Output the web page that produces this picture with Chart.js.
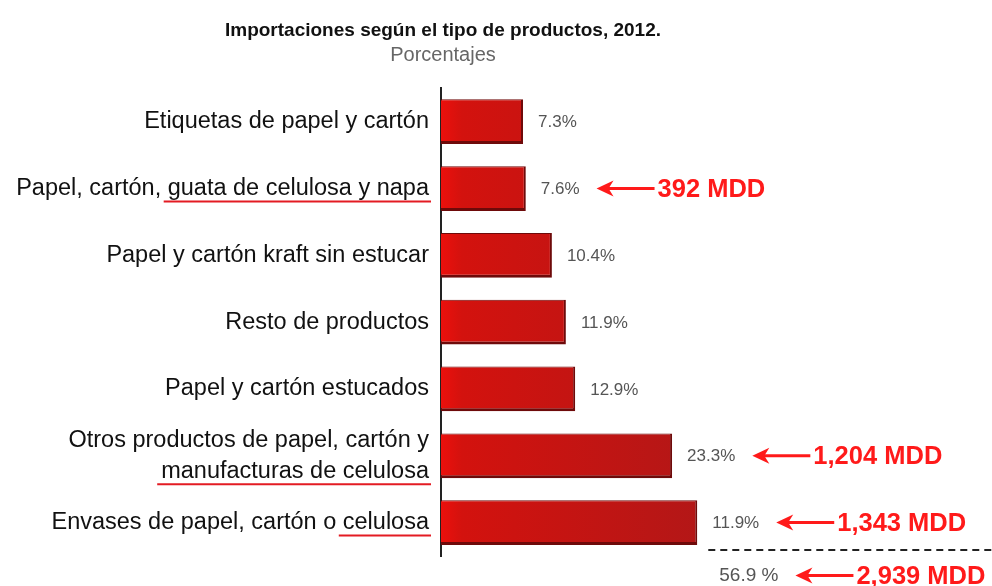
<!DOCTYPE html>
<html lang="es">
<head>
<meta charset="utf-8">
<title>Importaciones según el tipo de productos, 2012</title>
<script src="https://cdn.jsdelivr.net/npm/chart.js"></script>
<style>
  html, body { margin: 0; padding: 0; background: #ffffff; }
  #chartBox { position: relative; width: 992px; height: 586px; }
</style>
</head>
<body>
<div id="chartBox"><canvas id="importChart"></canvas></div>
<script>
// Chart data
const categories = [
  "Etiquetas de papel y cartón",
  "Papel, cartón, guata de celulosa y napa",
  "Papel y cartón kraft sin estucar",
  "Resto de productos",
  "Papel y cartón estucados",
  ["Otros productos de papel, cartón y", "manufacturas de celulosa"],
  "Envases de papel, cartón o celulosa",
];
const shares = [7.3, 7.6, 10.4, 11.9, 12.9, 23.3, 26.0];
// Labels as printed next to the bars
const shareLabels = ["7.3%", "7.6%", "10.4%", "11.9%", "12.9%", "23.3%", "11.9%"];
const callouts = ["", "392 MDD", "", "", "", "1,204 MDD", "1,343 MDD"];
const underlined = ["", "guata de celulosa y napa", "", "", "", "manufacturas de celulosa", "celulosa"];
const totalShare = "56.9 %";
const totalCallout = "2,939 MDD";

const FONT = '"Liberation Sans", Arial, sans-serif';
const RED = "#ff1a1a";

// Draw a red arrow pointing left with its text
function drawCallout(ctx, tipX, y, text) {
  ctx.fillStyle = RED;
  ctx.strokeStyle = RED;
  ctx.lineWidth = 3;
  ctx.beginPath();
  ctx.moveTo(tipX + 10, y);
  ctx.lineTo(tipX + 58, y);
  ctx.stroke();
  ctx.beginPath();
  ctx.moveTo(tipX, y);
  ctx.lineTo(tipX + 17, y - 8);
  ctx.lineTo(tipX + 12, y);
  ctx.lineTo(tipX + 17, y + 8);
  ctx.closePath();
  ctx.fill();
  ctx.font = "bold 25.5px " + FONT;
  ctx.textAlign = "left";
  ctx.textBaseline = "middle";
  ctx.fillText(text, tipX + 61, y + 1);
}

// Plugin for value labels, callouts, underlines and the total row
const annotationPlugin = {
  id: "annotations",
  afterDraw(chart) {
    const ctx = chart.ctx;
    const meta = chart.getDatasetMeta(0);
    const yScale = chart.scales.y;
    ctx.save();

    // Value labels and callouts
    meta.data.forEach((bar, i) => {
      const labelX = bar.x + 15;
      ctx.font = "17px " + FONT;
      ctx.fillStyle = "#555555";
      ctx.textAlign = "left";
      ctx.textBaseline = "middle";
      ctx.fillText(shareLabels[i], labelX, bar.y + 1);
      const labelEnd = labelX + ctx.measureText(shareLabels[i]).width;
      if (callouts[i]) {
        drawCallout(ctx, labelEnd + 17, bar.y, callouts[i]);
      }
    });

    // Red underlines below parts of the category labels
    const tickFont = yScale.options.ticks.font;
    const lineH = tickFont.size * tickFont.lineHeight;
    const textRight = yScale.right - yScale.options.ticks.padding;
    ctx.font = tickFont.size + "px " + FONT;
    ctx.strokeStyle = "#e31b23";
    ctx.lineWidth = 2;
    underlined.forEach((part, i) => {
      if (!part) return;
      const lines = Array.isArray(categories[i]) ? categories[i] : [categories[i]];
      const tickY = yScale.getPixelForTick(i);
      const lineY = tickY + ((lines.length - 1) / 2) * lineH;
      const w = ctx.measureText(part).width;
      ctx.beginPath();
      ctx.moveTo(textRight - w - 4, lineY + 13);
      ctx.lineTo(textRight + 2, lineY + 13);
      ctx.stroke();
    });

    // Dashed separator and total row
    const last = meta.data[meta.data.length - 1];
    const sepY = last.y + last.height / 2 + 5;
    ctx.strokeStyle = "#222222";
    ctx.lineWidth = 2;
    ctx.setLineDash([7, 5]);
    ctx.beginPath();
    ctx.moveTo(last.x + 11, sepY);
    ctx.lineTo(chart.width, sepY);
    ctx.stroke();
    ctx.setLineDash([]);

    const totalY = last.y + 53;
    const totalX = last.x + 22;
    ctx.font = "19px " + FONT;
    ctx.fillStyle = "#555555";
    ctx.textAlign = "left";
    ctx.textBaseline = "middle";
    ctx.fillText(totalShare, totalX, totalY);
    const totalEnd = totalX + ctx.measureText(totalShare).width;
    drawCallout(ctx, totalEnd + 17, totalY, totalCallout);

    ctx.restore();
  },
};

const canvas = document.getElementById("importChart");
const ctx = canvas.getContext("2d");

new Chart(ctx, {
  type: "bar",
  data: {
    labels: categories,
    datasets: [
      {
        label: "Importaciones",
        data: shares,
        base: -1.5,
        backgroundColor: function (context) {
          const chart = context.chart;
          const area = chart.chartArea;
          if (!area) return "#c81410";
          const g = chart.ctx.createLinearGradient(area.left, 0, area.left + 260, 0);
          g.addColorStop(0, "#ec100c");
          g.addColorStop(0.08, "#d3120e");
          g.addColorStop(1, "#b31717");
          return g;
        },
        borderColor: "#6e0a0a",
        borderWidth: { top: 1, right: 2, bottom: 3, left: 0 },
        borderSkipped: false,
        barPercentage: 0.67,
        categoryPercentage: 1,
      },
    ],
  },
  options: {
    indexAxis: "y",
    responsive: true,
    maintainAspectRatio: false,
    animation: false,
    layout: {
      padding: { top: 0, right: 106, bottom: 30, left: 0 },
    },
    scales: {
      x: {
        display: false,
        min: -1.5,
        max: 46.25,
      },
      y: {
        afterFit: function (scale) {
          scale.width = 441;
        },
        grid: { display: false, drawTicks: false },
        border: { display: true, color: "#222222", width: 2 },
        ticks: {
          padding: 12,
          color: "#111111",
          font: { family: FONT, size: 23.5, lineHeight: 1.32 },
        },
      },
    },
    plugins: {
      legend: { display: false },
      tooltip: { enabled: false },
      title: {
        display: true,
        text: "Importaciones según el tipo de productos, 2012.",
        color: "#111111",
        font: { family: FONT, size: 19, weight: "bold", lineHeight: 1.2 },
        padding: { top: 19.5, bottom: 1.5 },
      },
      subtitle: {
        display: true,
        text: "Porcentajes",
        color: "#666666",
        font: { family: FONT, size: 20, lineHeight: 1.2 },
        padding: { top: 0, bottom: 20.5 },
      },
    },
  },
  plugins: [annotationPlugin],
});
</script>
</body>
</html>
